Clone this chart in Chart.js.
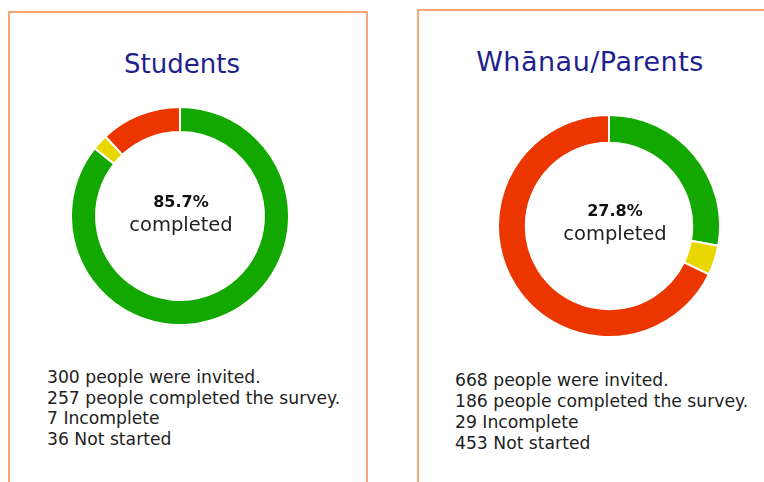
<!DOCTYPE html>
<html>
<head>
<meta charset="utf-8">
<script src="https://cdn.jsdelivr.net/npm/chart.js@4"></script>
<style>
  body { margin: 0; width: 764px; height: 482px; background: #fff; overflow: hidden; position: relative; font-family: "DejaVu Sans", sans-serif; }
  .card { position: absolute; border: 2px solid #f6a778; box-sizing: border-box; }
  .title { position: absolute; text-align: center; color: #1f1f8f; font-size: 26px; white-space: nowrap; }
  .center { position: absolute; text-align: center; color: #222; line-height: 23px; }
  .center b { font-size: 16px; font-weight: 700; color: #111; }
  .center span { font-size: 19.5px; }
  .stats { position: absolute; color: #222; font-size: 17.2px; line-height: 20.5px; white-space: nowrap; }
  canvas { position: absolute; }
</style>
</head>
<body>
<div class="card" style="left:8px; top:11px; width:360px; height:500px;"></div>
<div class="card" style="left:417px; top:9px; width:400px; height:500px;"></div>

<div class="title" style="left:82px; width:200px; top:49px;">Students</div>
<div class="title" style="left:440px; width:300px; top:46px; font-size:27px; letter-spacing:0.5px;">Whānau/Parents</div>

<canvas id="students" width="220" height="220" style="left:70px; top:106px;"></canvas>
<canvas id="parents" width="224" height="224" style="left:497px; top:114px;"></canvas>

<div class="center" id="studentsCenter" style="left:101px; width:160px; top:190px;"></div>
<div class="center" id="parentsCenter" style="left:535px; width:160px; top:199px;"></div>

<div class="stats" id="studentsStats" style="left:47px; top:367px;"></div>
<div class="stats" id="parentsStats" style="left:455px; top:370px; line-height:21px;"></div>

<script>
const categories = ["Completed", "Incomplete", "Not started"];
const studentValues = [257, 7, 36];
const parentValues = [186, 29, 453];
const colors = ["#12a800", "#e8d800", "#ec3600"];

function makeDonut(id, values, cutout) {
  new Chart(document.getElementById(id), {
    type: "doughnut",
    data: {
      labels: categories,
      datasets: [{
        data: values,
        backgroundColor: colors,
        borderColor: "#ffffff",
        borderWidth: 2
      }]
    },
    options: {
      responsive: false,
      animation: false,
      cutout: cutout,
      plugins: { legend: { display: false }, tooltip: { enabled: false } }
    }
  });
}

function fillText(prefix, values) {
  let total = values.reduce(function (a, b) { return a + b; }, 0);
  let pct = (values[0] / total * 100).toFixed(1);
  document.getElementById(prefix + "Center").innerHTML =
    "<b>" + pct + "%</b><br><span>completed</span>";
  document.getElementById(prefix + "Stats").innerHTML =
    total + " people were invited.<br>" +
    values[0] + " people completed the survey.<br>" +
    values[1] + " Incomplete<br>" +
    values[2] + " Not started";
}

makeDonut("students", studentValues, "77%");
makeDonut("parents", parentValues, "75%");
fillText("students", studentValues);
fillText("parents", parentValues);
</script>
</body>
</html>
